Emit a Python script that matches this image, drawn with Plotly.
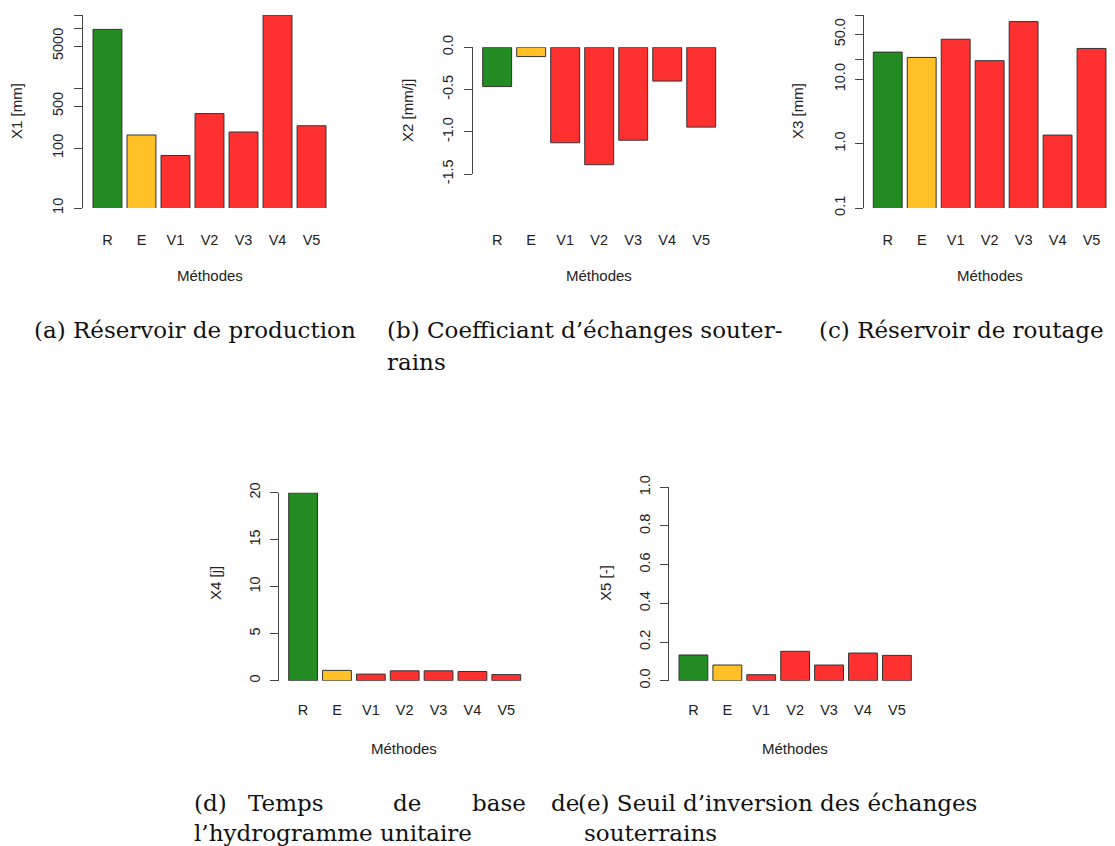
import plotly.graph_objects as go

W, H = 1115, 846
OFF = 8  # marge par défaut du <body> dans la page

# Données
methodes = ["R", "E", "V1", "V2", "V3", "V4", "V5"]
couleurs = ["#228B22", "#FFC125", "#FF3030", "#FF3030", "#FF3030", "#FF3030", "#FF3030"]

x1_mm = [9500, 165, 75, 375, 185, 16500, 235]
x2_mmj = [-0.465, -0.11, -1.13, -1.39, -1.10, -0.40, -0.945]
x3_mm = [26.5, 21.9, 42, 19.5, 79, 1.36, 30.2]
x4_j = [20, 1.1, 0.7, 1.05, 1.05, 0.98, 0.65]
x5_sans = [0.133, 0.081, 0.031, 0.152, 0.081, 0.143, 0.131]

FW, FH = W - OFF, H - OFF

def px(x):
    return (x - OFF) / FW

def py(y):
    return 1 - (y - OFF) / FH

# un dict par panneau : valeurs, titre y, échelle, ticks et position en pixels
panneaux = [
    dict(v=x1_mm, ytitre="X1 [mm]", type="log", rng=[1, 4.2175],
         tv=[10, 100, 500, 1000, 5000, 10000, 16500],
         tt=["10", "100", "500", "", "5000", "", ""],
         ax=83, r_left=93, v5_right=326, ybot=208, ytop=15, lab_y=237, met_y=275,
         ytit_x=17, ytit_y=111, met_x=210),
    dict(v=x2_mmj, ytitre="X2 [mm/j]", type="linear", rng=[-1.5, 0],
         tv=[0, -0.5, -1.0, -1.5], tt=["0.0", "-0.5", "-1.0", "-1.5"],
         ax=473, r_left=482.7, v5_right=715.7, ybot=174, ytop=47.3, lab_y=237, met_y=275,
         ytit_x=408, ytit_y=111, met_x=599),
    dict(v=x3_mm, ytitre="X3 [mm]", type="log", rng=[-1, 2],
         tv=[0.1, 1, 10, 20, 50, 100], tt=["0.1", "1.0", "10.0", "", "50.0", ""],
         ax=864.3, r_left=873.3, v5_right=1106, ybot=208, ytop=15, lab_y=237, met_y=275,
         ytit_x=798, ytit_y=111, met_x=990),
    dict(v=x4_j, ytitre="X4 [j]", type="linear", rng=[0, 20],
         tv=[0, 5, 10, 15, 20], tt=["0", "5", "10", "15", "20"],
         ax=279.3, r_left=288.7, v5_right=520.7, ybot=680.7, ytop=492.7, lab_y=708, met_y=748,
         ytit_x=215, ytit_y=583, met_x=404),
    dict(v=x5_sans, ytitre="X5 [-]", type="linear", rng=[0, 1],
         tv=[0, 0.2, 0.4, 0.6, 0.8, 1.0], tt=["0.0", "0.2", "0.4", "0.6", "0.8", "1.0"],
         ax=669.3, r_left=679, v5_right=911.3, ybot=680.7, ytop=487.3, lab_y=708, met_y=748,
         ytit_x=605, ytit_y=583, met_x=795),
]

police = "Liberation Sans, Arial, sans-serif"
fig = go.Figure()
annots = []
BW = 0.85

for i, p in enumerate(panneaux, start=1):
    slot = (p["v5_right"] - p["r_left"]) / (6 + BW)
    gauche = p["r_left"] - (1 - BW) / 2 * slot
    droite = p["v5_right"] + (1 - BW) / 2 * slot
    ext = (gauche - p["ax"]) / slot
    xa = "x" if i == 1 else f"x{i}"
    ya = "y" if i == 1 else f"y{i}"
    fig.add_trace(go.Bar(
        x=methodes, y=p["v"], xaxis=xa, yaxis=ya, width=BW,
        marker=dict(color=couleurs, line=dict(color="#333333", width=1)),
        showlegend=False,
    ))
    standoff = int(p["lab_y"] - p["ybot"] - 8)
    fig.layout[f"xaxis{i}"] = dict(
        domain=[px(p["ax"]), px(droite)], anchor=ya, range=[-0.5 - ext, 6.5],
        showline=False, showgrid=False, zeroline=False, ticks="",
        tickfont=dict(family=police, size=14.5, color="#222"),
        ticklabelstandoff=standoff, automargin=False, fixedrange=True,
    )
    fig.layout[f"yaxis{i}"] = dict(
        domain=[py(p["ybot"]), py(p["ytop"])], anchor=xa, type=p["type"], range=p["rng"],
        showline=True, linecolor="#444", linewidth=1, mirror=False,
        ticks="outside", ticklen=8, tickcolor="#444", tickwidth=1,
        tickvals=p["tv"], ticktext=p["tt"], tickangle=-90,
        tickfont=dict(family=police, size=14.5, color="#222"),
        ticklabelstandoff=5, automargin=False,
        showgrid=False, zeroline=False, fixedrange=True,
    )
    annots.append(dict(text=p["ytitre"], x=px(p["ytit_x"]), y=py(p["ytit_y"]),
                       xref="paper", yref="paper", textangle=-90, showarrow=False,
                       xanchor="center", yanchor="middle",
                       font=dict(family=police, size=15, color="#222")))
    annots.append(dict(text="Méthodes", x=px(p["met_x"]), y=py(p["met_y"]),
                       xref="paper", yref="paper", showarrow=False,
                       xanchor="center", yanchor="middle",
                       font=dict(family=police, size=15, color="#222")))

# Légendes des sous-figures
serif = "DejaVu Serif, Liberation Serif, serif"
legendes = [
    ("(a) Réservoir de production", 32, 330, "left"),
    ("(b) Coefficiant d’échanges souter-", 385, 330, "left"),
    ("rains", 385, 362, "left"),
    ("(c) Réservoir de routage", 1106, 330, "right"),
    ("(d)", 192, 803, "left"),
    ("Temps", 246, 803, "left"),
    ("de", 391, 803, "left"),
    ("base", 470, 803, "left"),
    ("de", 549, 803, "left"),
    ("l’hydrogramme unitaire", 192, 833, "left"),
    ("(e) Seuil d’inversion des échanges", 576, 803, "left"),
    ("souterrains", 582, 833, "left"),
]
for txt, x, y, anc in legendes:
    annots.append(dict(text=txt, x=px(x), y=py(y), xref="paper", yref="paper",
                       xanchor=anc, yanchor="middle", showarrow=False,
                       font=dict(family=serif, size=23, color="#111")))

fig.update_layout(
    template="none",
    width=FW, height=FH, margin=dict(l=0, r=0, t=0, b=0, autoexpand=False),
    paper_bgcolor="white", plot_bgcolor="white",
    annotations=annots,
)

fig.write_html("out.html")
